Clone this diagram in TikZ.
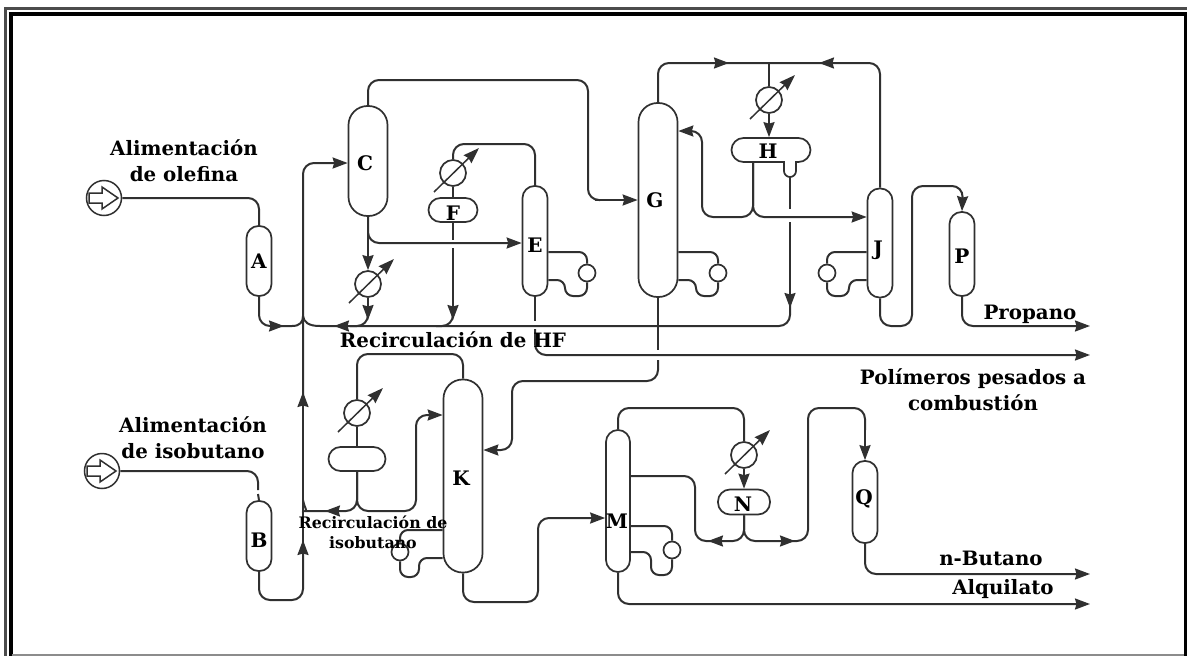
\documentclass[tikz,border=0pt]{standalone}
\usepackage{fontspec}
\setmainfont{DejaVu Serif}
\usetikzlibrary{arrows.meta, calc, decorations.markings}
\definecolor{mPipe}{HTML}{303030}
\tikzset{
  pipe/.style={draw=mPipe, line width=2pt, rounded corners=11pt},
  flow/.style={pipe, -{Stealth[length=15pt, width=11pt, inset=1.5pt]}},
  tipat/.style={postaction={decorate, decoration={markings,
      mark=at position #1 with {\arrow{Stealth[length=15pt, width=11pt, inset=1.5pt]}}}}},
  vessel/.style={draw=mPipe, line width=1.7pt, fill=white, rounded corners=#1, inner sep=0pt},
  vessel/.default=12pt,
  cooler/.style={draw=mPipe, line width=1.7pt, fill=white, circle, minimum size=26pt, inner sep=0pt},
  pump/.style={draw=mPipe, line width=1.7pt, fill=white, circle, minimum size=17pt, inner sep=0pt},
  feed/.style={draw=mPipe, line width=1.5pt, fill=white, circle, minimum size=35pt, inner sep=0pt},
  boil/.style={pipe, rounded corners=8pt},
  tag/.style={font=\bfseries\fontsize{20}{22}\selectfont, inner sep=0pt},
  lbl/.style={font=\bfseries\fontsize{19.8}{26}\selectfont, align=center, inner sep=0pt},
  smalllbl/.style={font=\bfseries\fontsize{15.8}{20}\selectfont, align=center, inner sep=0pt},
}
\begin{document}
\begin{tikzpicture}[x=1pt, y=-1pt]
  \useasboundingbox (0,0) rectangle (1187,656);
  % frame
  \draw[line width=2.5pt, black!70] (5.5,656) |- (1187,8.5);
  \draw[line width=3.5pt] (11,656) |- (1185.5,14) -- (1185.5,656);
  \draw[line width=1.5pt, black!45] (12,655.2) -- (1184,655.2);

  % free ends
  \coordinate (polyEnd) at (1090,355);
  \coordinate (propEnd) at (1090,326);
  \coordinate (butEnd) at (1090,574);
  \coordinate (alqEnd) at (1090,604);

  % vessels
  \node[vessel, minimum width=25pt, minimum height=70pt] (A) at (259,261) {};
  \node[vessel, minimum width=25pt, minimum height=70pt] (B) at (259,536) {};
  \node[vessel=19pt, minimum width=39pt, minimum height=110pt] (C) at (368,161) {};
  \node[vessel, minimum width=25pt, minimum height=110pt] (E) at (535,241) {};
  \node[vessel, minimum width=49pt, minimum height=24pt] (F) at (453,210) {};
  \node[vessel=19pt, minimum width=39pt, minimum height=194pt] (G) at (658,200) {};
  \node[vessel, minimum width=79pt, minimum height=24pt] (H) at (771,150) {};
  \node[vessel, minimum width=25pt, minimum height=109pt] (J) at (880,243) {};
  \node[vessel=19pt, minimum width=39pt, minimum height=193pt] (K) at (463,476) {};
  \node[vessel, minimum width=57pt, minimum height=24pt] (S) at (357,459) {};
  \node[vessel, minimum width=24pt, minimum height=142pt] (M) at (618,501) {};
  \node[vessel, minimum width=52pt, minimum height=25pt] (N) at (744,502) {};
  \node[vessel, minimum width=25pt, minimum height=84pt] (P) at (962,254) {};
  \node[vessel, minimum width=25pt, minimum height=82pt] (Q) at (865,502) {};

  % coolers
  \foreach \nm/\x/\y in {hxC/368/284, hxF/453/173, hxH/769/100, hxK/357/413, hxN/744/455} {
    \node[cooler] (\nm) at (\x,\y) {};
  }
  % reboiler pumps
  \foreach \nm/\x/\y in {pmE/587/273, pmG/718/273, pmJ/827/273, pmK/400/552, pmM/672/550} {
    \node[pump] (\nm) at (\x,\y) {};
  }
  % feeds
  \node[feed] (feedA) at (104,198) {};
  \node[feed] (feedB) at (102,471) {};
  \foreach \nm in {feedA,feedB} {
    \draw[line width=1.5pt, draw=mPipe, fill=white] ($(\nm)+(-15,-5)$) -- ++(13,0) -- ++(0,-6) -- ++(16,11) -- ++(-16,11) -- ++(0,-6) -- ++(-13,0) -- cycle;
  }

  % olefin feed and main line
  \draw[pipe] (feedA.east) -| (A.north);
  \draw[pipe, tipat=-8pt] (A.south) |- (292,326);
  \draw[pipe] (292,326) .. controls (300,326) and (303,322) .. (303,316);
  \draw[pipe] (feedB.east) -| (258,490);
  \draw[pipe] (258,494) -- (B.north);
  \coordinate (cIn) at (C.west |- 0,163);
  \draw[flow] (B.south) |- (303,600) -- (303,540);
  \draw[flow] (303,550) -- (303,392);
  \draw[flow] (303,400) |- (cIn);
  % HF recycle
  \draw[flow] (790,222) -- (790,308);
  \draw[pipe, tipat=-14pt] (790,300) |- (320,326);
  \draw[pipe] (320,326) .. controls (308,326) and (304,322) .. (303,316);
  % C overheads and bottoms
  \coordinate (gIn) at (G.west |- 0,200);
  \draw[pipe] (C.north) |- (588,80) |- (600,200);
  \draw[flow] (595,200) -- (gIn);
  \coordinate (eIn) at (E.west |- 0,243);
  \draw[flow] (C.south) |- (eIn);
  \draw[flow] (C.south) -- (hxC.north);
  \draw[flow] (hxC.south) -- (368,320);
  \draw[pipe] (368,310) |- (350,326);
  % E loop
  \draw[pipe] (E.north) |- (453,144) -- (hxF.north);
  \draw[pipe] (hxF.south) -- (F.north);
  \draw[pipe] (F.south) -- (453,240);
  \draw[flow] (453,248) -- (453,320);
  \draw[pipe] (453,310) |- (436,326);
  \draw[pipe] (E.south) -- (535,321);
  \draw[flow] (535,329) |- (polyEnd);
  % reboilers
  \draw[boil] (E.east |- 0,252) -| (pmE.north);
  \draw[boil] (pmE.south) |- (565,296) |- (E.east |- 0,280);
  \draw[boil] (G.east |- 0,252) -| (pmG.north);
  \draw[boil] (pmG.south) |- (696,296) |- (G.east |- 0,280);
  \draw[boil] (J.west |- 0,252) -| (pmJ.north);
  \draw[boil] (pmJ.south) |- (849,296) |- (J.west |- 0,280);
  \draw[boil] (K.west |- 0,530) -| (pmK.north);
  \draw[boil] (pmK.south) |- (419,577) |- (K.west |- 0,558);
  \draw[boil] (M.east |- 0,526) -| (pmM.north);
  \draw[boil] (pmM.south) |- (651,575) |- (M.east |- 0,552);
  % G overheads
  \coordinate (hxHtop) at (769,63);
  \draw[pipe, tipat=-40pt] (G.north) |- (hxHtop);
  \draw[pipe, tipat=-50pt] (J.north) |- (hxHtop);
  \draw[pipe] (hxHtop) -- (hxH.north);
  \draw[flow] (hxH.south) -- (hxH.south |- H.north);
  \coordinate (gBack) at (G.east |- 0,131);
  \draw[flow] (753,162) |- (702,217) |- (gBack);
  \coordinate (jIn) at (J.west |- 0,217);
  \draw[flow] (753,162) |- (jIn);
  % H boot
  \draw[draw=mPipe, line width=1.7pt, fill=white] (784,161) -- (784,171) arc[start angle=180, end angle=0, radius=6] -- (796,161);
  \draw[pipe] (790,177) -- (790,209);
  % J to P
  \draw[flow] (J.south) |- (912,326) |- (963,186) -- (P.north);
  \draw[flow] (P.south) |- (propEnd);
  % G bottoms
  \coordinate (kIn) at (K.east |- 0,450);
  \draw[pipe] (G.south) -- (658,350);
  \draw[flow] (658,360) |- (512,381) |- (kIn);
  % K loop
  \draw[pipe] (K.north) |- (357,354) -- (hxK.north);
  \draw[pipe] (hxK.south) -- (S.north);
  \coordinate (kRet) at (K.west |- 0,415);
  \draw[flow] (S.south) |- (325,511);
  \draw[pipe] (330,511) -- (316,511) .. controls (308,511) and (304,507) .. (303,500);
  \draw[flow] (S.south) |- (416,511) |- (kRet);
  % K to M
  \coordinate (mIn) at (M.west |- 0,518);
  \draw[flow] (K.south) |- (538,602) |- (mIn);
  % M to N
  \draw[pipe] (M.north) |- (744,408) -- (hxN.north);
  \draw[flow] (hxN.south) -- (N.north);
  \draw[flow] (N.south) |- (708,541);
  \draw[pipe] (716,541) -| (695,476) -- (M.east |- 0,476);
  \draw[flow] (N.south) |- (795,541);
  \draw[pipe] (785,541) -| (808,408) -| (865,430);
  \draw[flow] (865,420) -- (Q.north);
  \draw[flow] (Q.south) |- (butEnd);
  \draw[flow] (M.south) |- (alqEnd);

  % cooler slashes
  \foreach \nm in {hxC,hxF,hxH,hxK,hxN} {
    \draw[line width=1.5pt, draw=mPipe, -{Stealth[length=16pt, width=11pt, inset=1.5pt]}] ($(\nm)+(-19,19)$) -- ($(\nm)+(26,-25)$);
  }

  % letters
  \foreach \tx/\x/\y in {A/259/261, B/259/540, C/365/163, E/535/245, F/453/213, G/655/200, H/768/151, J/878/250, K/461/478, M/617/521, N/743/504, P/962/256, Q/864/499} {
    \node[tag] (t\tx) at (\x,\y) {\tx};
  }
  % labels
  \node[lbl] (lbOlefina) at (184,161) {Alimentación\\de olefina};
  \node[lbl] (lbIso) at (193,438) {Alimentación\\de isobutano};
  \node[lbl] (lbHF) at (453,340) {Recirculación de HF};
  \node[smalllbl] (lbRec) at (373,532) {Recirculación de\\isobutano};
  \node[lbl] (lbPoly) at (973,390) {Polímeros pesados a\\combustión};
  \node[lbl] (lbProp) at (1030,314) {Propano};
  \node[lbl] (lbBut) at (991,558) {n-Butano};
  \node[lbl] (lbAlq) at (1003,589) {Alquilato};
\end{tikzpicture}
\end{document}
